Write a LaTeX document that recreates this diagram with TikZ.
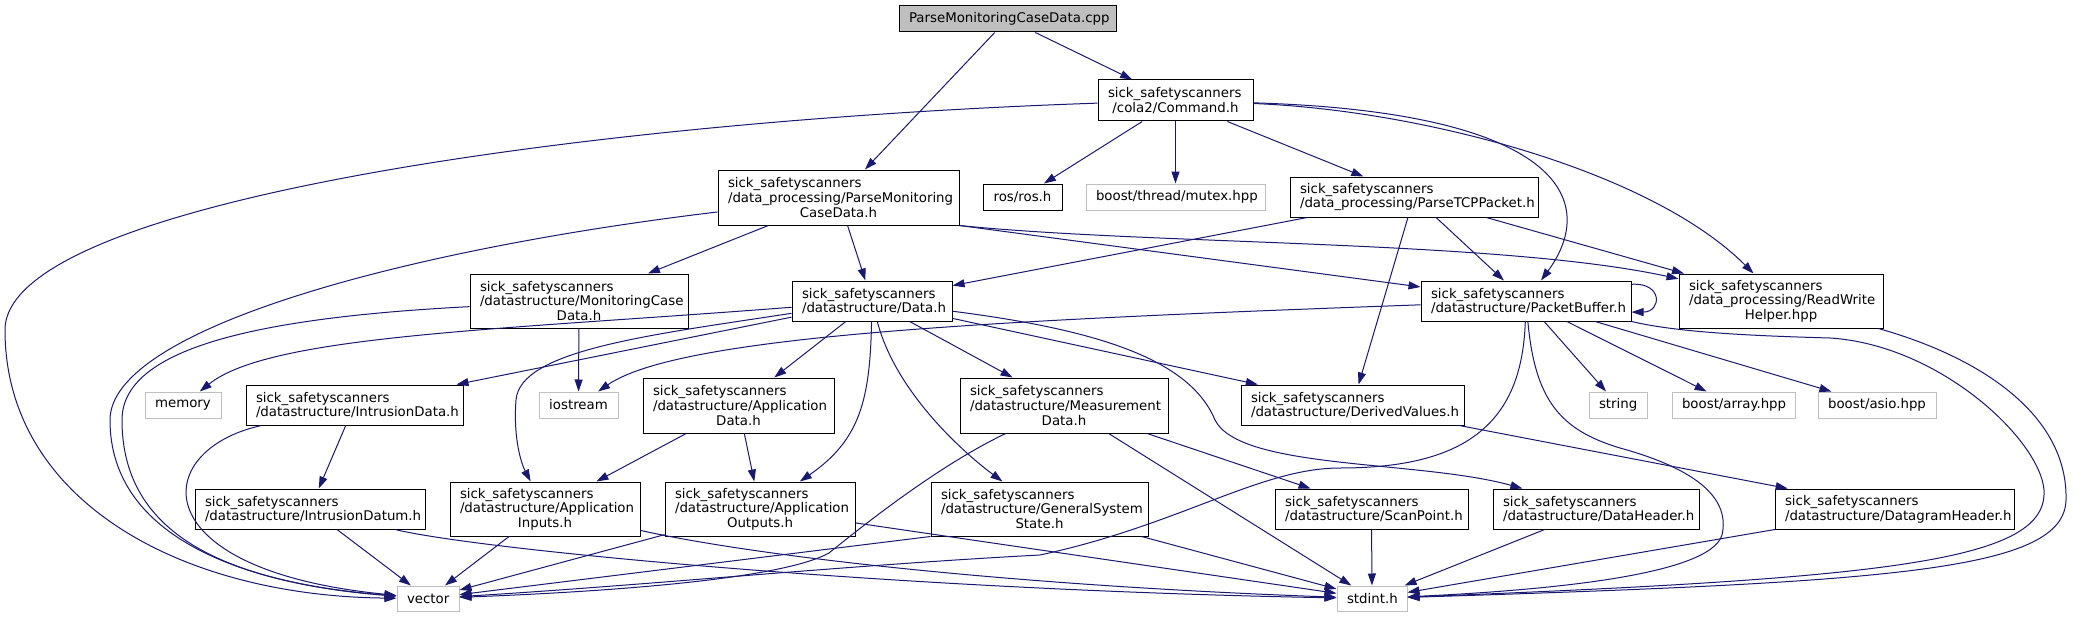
\documentclass[tikz,border=0pt]{standalone}
\usepackage{fontspec}
\setmainfont{DejaVu Sans}
\usepackage{tikz}
\usetikzlibrary{arrows.meta}
\tikzstyle{pixelGrid} = [x = 0.75pt, y = -0.75pt]
\definecolor{edgeColor}{RGB}{25,25,112}
\definecolor{systemBorder}{RGB}{191,191,191}
\definecolor{rootFill}{RGB}{191,191,191}
\tikzstyle{fileStyle} = [draw=black, fill=white, line width=0.75pt, inner xsep=7.5pt, inner ysep=0pt, align=center, font=\fontsize{10}{11}\selectfont]
\tikzstyle{systemStyle} = [fileStyle, draw=systemBorder]
\tikzstyle{rootStyle} = [fileStyle, fill=rootFill]
\tikzstyle{includeEdge} = [color=edgeColor, line width=0.75pt, -{Triangle[length=9pt, width=6pt]}]
\newcommand{\leftRow}[1]{\makebox[\hsize][l]{#1}}
\newcommand{\fileBox}[7][fileStyle]{
  \pgfmathsetmacro{\boxWidth}{(#5 - #3) * 0.75}
  \pgfmathsetmacro{\boxHeight}{(#6 - #4) * 0.75}
  \pgfmathsetmacro{\labelWidth}{(#5 - #3 - 20) * 0.75}
  \node [#1, minimum width = \boxWidth pt, minimum height = \boxHeight pt, text width = \labelWidth pt] (#2) at ({(#3 + #5) / 2}, {(#4 + #6) / 2}) {#7};
}
\begin{document}
\begin{tikzpicture}[pixelGrid]
  \path [fill=white, use as bounding box] (0,0) rectangle (2082,617);

  % nodes, given by left, top, right, bottom in pixels
  \fileBox[rootStyle]{parseMonitoringCpp}{899}{6}{1116}{32}{ParseMonitoringCaseData.cpp}
  \fileBox{commandH}{1098}{80}{1253}{121}{\leftRow{sick\_safetyscanners}\\/cola2/Command.h}
  \fileBox{parseMonitoringH}{718}{170}{959}{225}{\leftRow{sick\_safetyscanners}\\\leftRow{/data\_processing/ParseMonitoring}\\CaseData.h}
  \fileBox{rosH}{983}{184}{1062}{210}{ros/ros.h}
  \fileBox[systemStyle]{mutexH}{1086}{184}{1265}{210}{boost/thread/mutex.hpp}
  \fileBox{parseTcpH}{1290}{177}{1538}{217}{\leftRow{sick\_safetyscanners}\\/data\_processing/ParseTCPPacket.h}
  \fileBox{readWriteH}{1679}{274}{1883}{328}{\leftRow{sick\_safetyscanners}\\\leftRow{/data\_processing/ReadWrite}\\Helper.hpp}
  \fileBox{packetBufferH}{1421}{281}{1631}{321}{\leftRow{sick\_safetyscanners}\\/datastructure/PacketBuffer.h}
  \fileBox{monitoringCaseH}{470}{274}{688}{328}{\leftRow{sick\_safetyscanners}\\\leftRow{/datastructure/MonitoringCase}\\Data.h}
  \fileBox{dataH}{792}{281}{952}{321}{\leftRow{sick\_safetyscanners}\\/datastructure/Data.h}

  \fileBox[systemStyle]{memoryH}{145}{392}{221}{418}{memory}
  \fileBox{intrusionDataH}{246}{385}{463}{425}{\leftRow{sick\_safetyscanners}\\/datastructure/IntrusionData.h}
  \fileBox[systemStyle]{iostreamH}{539}{392}{618}{418}{iostream}
  \fileBox{applicationDataH}{643}{378}{834}{433}{\leftRow{sick\_safetyscanners}\\\leftRow{/datastructure/Application}\\Data.h}
  \fileBox{measurementH}{960}{378}{1168}{433}{\leftRow{sick\_safetyscanners}\\\leftRow{/datastructure/Measurement}\\Data.h}
  \fileBox{derivedValuesH}{1241}{385}{1464}{425}{\leftRow{sick\_safetyscanners}\\/datastructure/DerivedValues.h}
  \fileBox[systemStyle]{stringH}{1589}{392}{1647}{418}{string}
  \fileBox[systemStyle]{boostArrayH}{1672}{392}{1795}{418}{boost/array.hpp}
  \fileBox[systemStyle]{boostAsioH}{1818}{392}{1936}{418}{boost/asio.hpp}

  \fileBox{intrusionDatumH}{195}{489}{425}{529}{\leftRow{sick\_safetyscanners}\\/datastructure/IntrusionDatum.h}
  \fileBox{applicationInputsH}{450}{482}{640}{536}{\leftRow{sick\_safetyscanners}\\\leftRow{/datastructure/Application}\\Inputs.h}
  \fileBox{applicationOutputsH}{665}{482}{855}{536}{\leftRow{sick\_safetyscanners}\\\leftRow{/datastructure/Application}\\Outputs.h}
  \fileBox{generalStateH}{931}{482}{1148}{536}{\leftRow{sick\_safetyscanners}\\\leftRow{/datastructure/GeneralSystem}\\State.h}
  \fileBox{scanPointH}{1275}{489}{1468}{529}{\leftRow{sick\_safetyscanners}\\/datastructure/ScanPoint.h}
  \fileBox{dataHeaderH}{1493}{489}{1699}{529}{\leftRow{sick\_safetyscanners}\\/datastructure/DataHeader.h}
  \fileBox{datagramHeaderH}{1775}{489}{2014}{529}{\leftRow{sick\_safetyscanners}\\/datastructure/DatagramHeader.h}

  \fileBox[systemStyle]{vectorH}{397}{586}{459}{611}{vector}
  \fileBox[systemStyle]{stdintH}{1337}{586}{1407}{611}{stdint.h}

  % ParseMonitoringCaseData.cpp
  \draw [includeEdge] (parseMonitoringCpp) -- (commandH);
  \draw [includeEdge] (parseMonitoringCpp) -- (parseMonitoringH);

  % cola2/Command.h
  \draw [includeEdge] (commandH) .. controls (600,120) and (5,200) .. (5,330) .. controls (5,500) and (180,596) .. (vectorH);
  \draw [includeEdge] (commandH) -- (rosH);
  \draw [includeEdge] (commandH) -- (mutexH);
  \draw [includeEdge] (commandH) -- (parseTcpH);
  \draw [includeEdge] (commandH) .. controls (1560,112) and (1600,200) .. (packetBufferH);
  \draw [includeEdge] (commandH) .. controls (1420,110) and (1650,170) .. (readWriteH);

  % data_processing/ParseMonitoringCaseData.h
  \draw [includeEdge] (parseMonitoringH) .. controls (400,250) and (110,330) .. (110,420) .. controls (110,540) and (250,585) .. (vectorH);
  \draw [includeEdge] (parseMonitoringH) -- (monitoringCaseH);
  \draw [includeEdge] (parseMonitoringH) -- (dataH);
  \draw [includeEdge] (parseMonitoringH.south east) -- (packetBufferH);
  \draw [includeEdge] (parseMonitoringH.south east) .. controls (1150,245) and (1500,240) .. (readWriteH);

  % data_processing/ParseTCPPacket.h
  \draw [includeEdge] (parseTcpH) -- (dataH);
  \draw [includeEdge] (parseTcpH) -- (derivedValuesH);
  \draw [includeEdge] (parseTcpH) -- (packetBufferH);
  \draw [includeEdge] (parseTcpH) -- (readWriteH);

  % datastructure/MonitoringCaseData.h
  \draw [includeEdge] (monitoringCaseH) .. controls (250,318) and (122,350) .. (122,420) .. controls (122,520) and (200,580) .. (vectorH);
  \draw [includeEdge] (monitoringCaseH) -- (iostreamH);

  % datastructure/Data.h
  \draw [includeEdge] (dataH) .. controls (500,330) and (270,335) .. (memoryH);
  \draw [includeEdge] (dataH) -- (intrusionDataH);
  \draw [includeEdge] (dataH) .. controls (650,335) and (520,350) .. (516,400) .. controls (513,440) and (522,465) .. (applicationInputsH);
  \draw [includeEdge] (dataH) -- (applicationDataH);
  \draw [includeEdge] (dataH) .. controls (870,400) and (860,440) .. (applicationOutputsH);
  \draw [includeEdge] (dataH) .. controls (895,390) and (960,450) .. (generalStateH);
  \draw [includeEdge] (dataH) -- (measurementH);
  \draw [includeEdge] (dataH) .. controls (1100,330) and (1190,360) .. (1215,420) .. controls (1240,470) and (1420,460) .. (dataHeaderH);
  \draw [includeEdge] (dataH) -- (derivedValuesH);

  % third row
  \draw [includeEdge] (intrusionDataH) .. controls (150,450) and (140,570) .. (vectorH);
  \draw [includeEdge] (intrusionDataH) -- (intrusionDatumH);
  \draw [includeEdge] (applicationDataH) -- (applicationInputsH);
  \draw [includeEdge] (applicationDataH) -- (applicationOutputsH);
  \draw [includeEdge] (measurementH) .. controls (940,465) and (870,520) .. (829,553) .. controls (780,580) and (600,592) .. (vectorH);
  \draw [includeEdge] (measurementH) -- (stdintH);
  \draw [includeEdge] (measurementH) -- (scanPointH);
  \draw [includeEdge] (derivedValuesH) -- (datagramHeaderH);

  % fourth row
  \draw [includeEdge] (intrusionDatumH) -- (vectorH);
  \draw [includeEdge] (intrusionDatumH) .. controls (480,550) and (900,590) .. (stdintH);
  \draw [includeEdge] (applicationInputsH) -- (vectorH);
  \draw [includeEdge] (applicationInputsH) .. controls (750,555) and (1000,585) .. (stdintH);
  \draw [includeEdge] (applicationOutputsH) -- (vectorH);
  \draw [includeEdge] (applicationOutputsH) -- (stdintH);
  \draw [includeEdge] (generalStateH.south west) -- (vectorH);
  \draw [includeEdge] (generalStateH) -- (stdintH);
  \draw [includeEdge] (scanPointH) -- (stdintH);
  \draw [includeEdge] (dataHeaderH) -- (stdintH);
  \draw [includeEdge] (datagramHeaderH) -- (stdintH);

  % datastructure/PacketBuffer.h
  \draw [includeEdge] (packetBufferH.9) .. controls +(32,-2) and +(30,0) .. (packetBufferH.-6);
  \draw [includeEdge] (packetBufferH) .. controls (1000,320) and (680,335) .. (iostreamH);
  \draw [includeEdge] (packetBufferH) .. controls (1522,420) and (1470,468) .. (1340,468) .. controls (1260,468) and (1180,525) .. (1040,555) .. controls (850,565) and (650,585) .. (vectorH);
  \draw [includeEdge] (packetBufferH) -- (stringH);
  \draw [includeEdge] (packetBufferH) -- (boostArrayH);
  \draw [includeEdge] (packetBufferH) -- (boostAsioH);
  \draw [includeEdge] (packetBufferH) .. controls (1535,400) and (1560,430) .. (1620,448) .. controls (1700,470) and (1730,500) .. (1722,535) .. controls (1710,575) and (1550,590) .. (stdintH);
  \draw [includeEdge] (packetBufferH.south east) .. controls (1680,333) and (1760,336) .. (1830,338) .. controls (1940,345) and (2040,440) .. (2044,490) .. controls (2048,560) and (1900,578) .. (stdintH);

  % data_processing/ReadWriteHelper.hpp
  \draw [includeEdge] (readWriteH) .. controls (1990,360) and (2068,420) .. (2066,500) .. controls (2064,570) and (1900,582) .. (stdintH);
\end{tikzpicture}
\end{document}
